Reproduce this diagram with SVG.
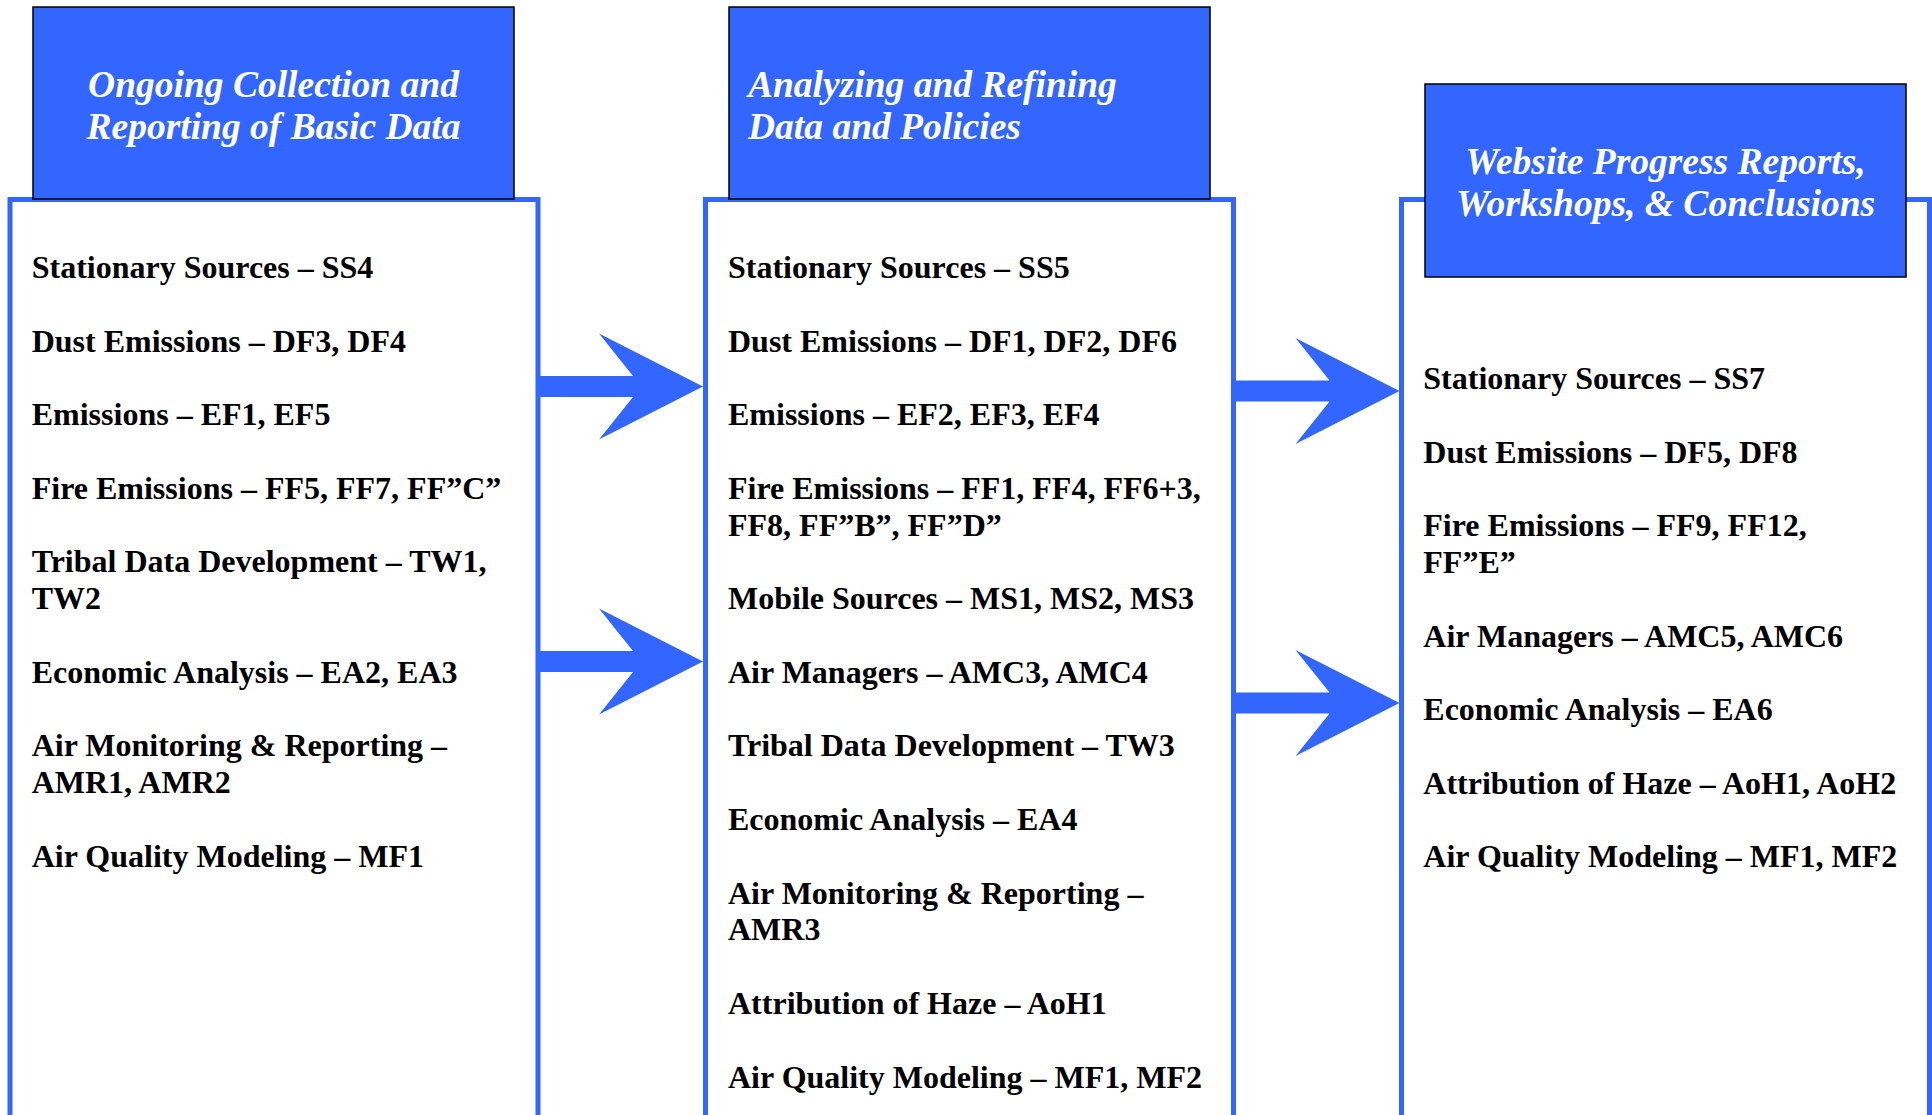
<svg xmlns="http://www.w3.org/2000/svg" width="1932" height="1115" viewBox="0 0 1932 1115">
<style>
.frame{fill:#ffffff;stroke:#3366FF;stroke-width:5}
.head{fill:#3366FF;stroke:#000000;stroke-width:1.5}
.ht{font-family:"Liberation Serif","Times New Roman",serif;font-weight:bold;font-style:italic;font-size:37.5px;fill:#ffffff}
.bt{font-family:"Liberation Serif","Times New Roman",serif;font-weight:bold;font-size:32px;fill:#000000}
.arrow{fill:#3366FF}
</style>
<defs>
<path id="arr" d="M-165,-10.5 H-70 L-104,-53 L0,0 L-104,53 L-70,10.5 H-165 Z"/>
</defs>
<rect width="1932" height="1115" fill="#ffffff"/>

<g id="col1">
<rect class="frame" x="10" y="199.5" width="528" height="940"/>
<rect class="head" x="33" y="7" width="481" height="192"/>
<text class="ht" text-anchor="middle"><tspan x="273.5" y="97">Ongoing Collection and</tspan><tspan x="273.5" y="138.5">Reporting of Basic Data</tspan></text>
<text class="bt" x="31.7" y="278">Stationary Sources – SS4</text>
<text class="bt" x="31.7" y="351.6">Dust Emissions – DF3, DF4</text>
<text class="bt" x="31.7" y="425.2">Emissions – EF1, EF5</text>
<text class="bt" x="31.7" y="498.8">Fire Emissions – FF5, FF7, FF”C”</text>
<text class="bt"><tspan x="31.7" y="572.4">Tribal Data Development – TW1,</tspan><tspan x="31.7" y="609.2">TW2</tspan></text>
<text class="bt" x="31.7" y="682.8">Economic Analysis – EA2, EA3</text>
<text class="bt"><tspan x="31.7" y="756.4">Air Monitoring &amp; Reporting –</tspan><tspan x="31.7" y="793.2">AMR1, AMR2</tspan></text>
<text class="bt" x="31.7" y="866.8">Air Quality Modeling – MF1</text>
</g>

<g id="col2">
<rect class="frame" x="705.5" y="199.5" width="528" height="940"/>
<rect class="head" x="729" y="7" width="481" height="192"/>
<text class="ht"><tspan x="748" y="97">Analyzing and Refining</tspan><tspan x="748" y="138.5">Data and Policies</tspan></text>
<text class="bt" x="728" y="278">Stationary Sources – SS5</text>
<text class="bt" x="728" y="351.6">Dust Emissions – DF1, DF2, DF6</text>
<text class="bt" x="728" y="425.2">Emissions – EF2, EF3, EF4</text>
<text class="bt"><tspan x="728" y="498.8">Fire Emissions – FF1, FF4, FF6+3,</tspan><tspan x="728" y="535.6">FF8, FF”B”, FF”D”</tspan></text>
<text class="bt" x="728" y="609.2">Mobile Sources – MS1, MS2, MS3</text>
<text class="bt" x="728" y="682.8">Air Managers – AMC3, AMC4</text>
<text class="bt" x="728" y="756.4">Tribal Data Development – TW3</text>
<text class="bt" x="728" y="830">Economic Analysis – EA4</text>
<text class="bt"><tspan x="728" y="903.6">Air Monitoring &amp; Reporting –</tspan><tspan x="728" y="940.4">AMR3</tspan></text>
<text class="bt" x="728" y="1014">Attribution of Haze – AoH1</text>
<text class="bt" x="728" y="1087.6">Air Quality Modeling – MF1, MF2</text>
</g>

<g id="col3">
<rect class="frame" x="1401.5" y="199.5" width="528" height="940"/>
<rect class="head" x="1425" y="84" width="481" height="193"/>
<text class="ht" text-anchor="middle"><tspan x="1665.5" y="173.5">Website Progress Reports,</tspan><tspan x="1665.5" y="216">Workshops, &amp; Conclusions</tspan></text>
<text class="bt" x="1423.3" y="389">Stationary Sources – SS7</text>
<text class="bt" x="1423.3" y="462.6">Dust Emissions – DF5, DF8</text>
<text class="bt"><tspan x="1423.3" y="536.2">Fire Emissions – FF9, FF12,</tspan><tspan x="1423.3" y="573">FF”E”</tspan></text>
<text class="bt" x="1423.3" y="646.6">Air Managers – AMC5, AMC6</text>
<text class="bt" x="1423.3" y="720.2">Economic Analysis – EA6</text>
<text class="bt" x="1423.3" y="793.8">Attribution of Haze – AoH1, AoH2</text>
<text class="bt" x="1423.3" y="867.4">Air Quality Modeling – MF1, MF2</text>
</g>

<g id="connectors">
<use href="#arr" class="arrow" transform="translate(703,386.5)"/>
<use href="#arr" class="arrow" transform="translate(703,661.5)"/>
<use href="#arr" class="arrow" transform="translate(1399.5,391)"/>
<use href="#arr" class="arrow" transform="translate(1399.5,703)"/>
</g>
</svg>
